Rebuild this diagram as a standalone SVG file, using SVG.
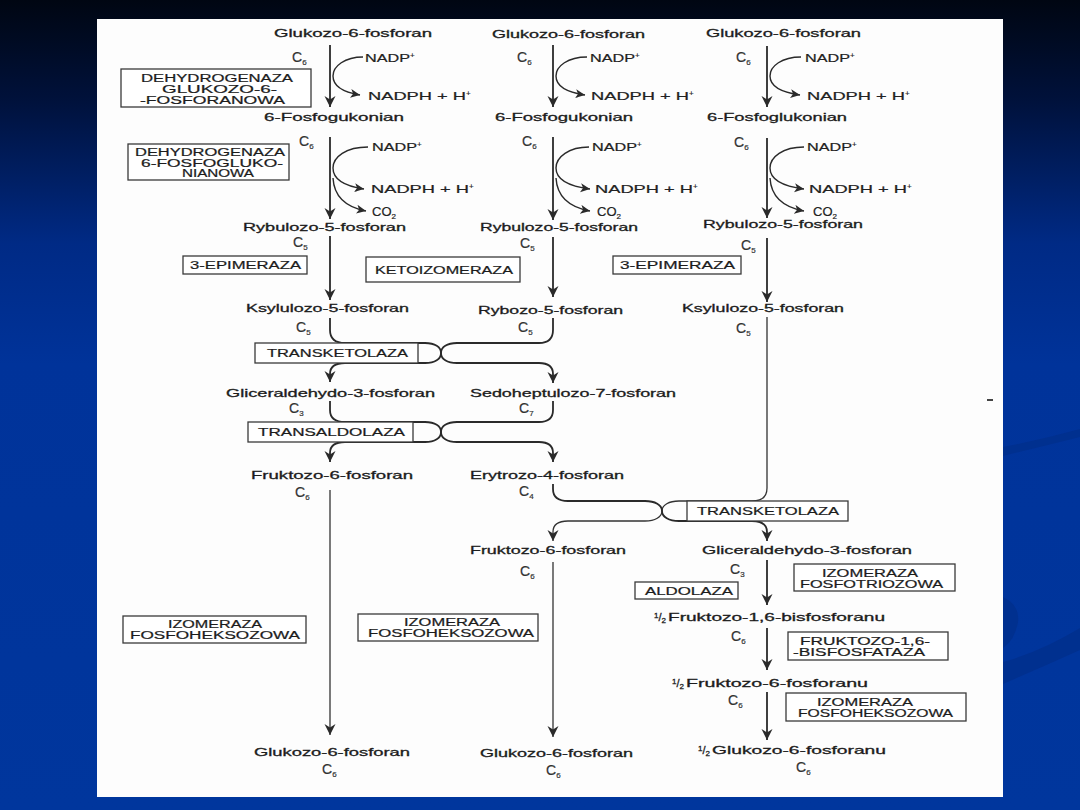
<svg xmlns="http://www.w3.org/2000/svg" width="1080" height="810" viewBox="0 0 1080 810">
<defs>
<linearGradient id="bg" x1="0" y1="0" x2="0" y2="1">
<stop offset="0" stop-color="#000612"/>
<stop offset="0.12" stop-color="#00113a"/>
<stop offset="0.3" stop-color="#002a85"/>
<stop offset="0.45" stop-color="#00339a"/>
<stop offset="1" stop-color="#00369d"/>
</linearGradient>
<marker id="ah" markerUnits="userSpaceOnUse" markerWidth="12" markerHeight="12" viewBox="0 0 12 12" refX="11" refY="6" orient="auto">
<path d="M0,0.5 L11,6 L0,11.5 L3.5,6 z" fill="#2a2a2a"/>
</marker>
<marker id="as" markerUnits="userSpaceOnUse" markerWidth="10" markerHeight="10" viewBox="0 0 10 10" refX="9.5" refY="5" orient="auto">
<path d="M0,0.5 L9.5,5 L0,9.5 L2.5,5 z" fill="#2a2a2a"/>
</marker>
<style>
.cmp{font-family:"Liberation Sans",Arial,sans-serif;font-size:11px;fill:#1c1c1c;stroke:#1c1c1c;stroke-width:0.3}
.enz{font-family:"Liberation Sans",Arial,sans-serif;font-size:10px;fill:#1c1c1c;stroke:#1c1c1c;stroke-width:0.2}
.cof{font-family:"Liberation Sans",Arial,sans-serif;font-size:11.5px;fill:#222;stroke:#222;stroke-width:0.2}
.co2{font-family:"Liberation Sans",Arial,sans-serif;font-size:13px;fill:#222;stroke:#222;stroke-width:0.2}
.cl{font-family:"Liberation Sans",Arial,sans-serif;font-size:14px;fill:#333;stroke:#333;stroke-width:0.2}
.sb{font-size:8px}
.box{fill:#fff;stroke:#3a3a3a;stroke-width:1.3}
.ln{fill:none;stroke:#2a2a2a;stroke-width:1.8}
.lt{fill:none;stroke:#333;stroke-width:1.3}
.cv{fill:none;stroke:#2a2a2a;stroke-width:1.4}
</style>
</defs>
<rect width="1080" height="810" fill="url(#bg)"/>
<path d="M1003,447 Q1040,440 1080,429 L1080,437 Q1040,447 1003,456 z" fill="#00308f"/>
<path d="M1003,597 Q1020,605 1018,622 Q1015,640 1003,648 z" fill="#00308f"/>
<path d="M1003,662 Q1040,652 1080,628 L1080,650 Q1040,668 1003,684 z" fill="#00308f"/>
<rect x="97" y="19" width="906" height="778" fill="#fdfdfd"/>
<rect x="987" y="399" width="6" height="2" fill="#444"/>

<g id="connectors">
<line class="ln" x1="330" y1="45" x2="330" y2="107" marker-end="url(#ah)"/>
<line class="ln" x1="330" y1="137" x2="330" y2="219" marker-end="url(#ah)"/>
<line class="ln" x1="330" y1="236" x2="330" y2="300" marker-end="url(#ah)"/>
<line class="lt" x1="330" y1="490" x2="330" y2="735" marker-end="url(#ah)"/>
<line class="ln" x1="553" y1="45" x2="553" y2="107" marker-end="url(#ah)"/>
<line class="ln" x1="553" y1="137" x2="553" y2="220" marker-end="url(#ah)"/>
<line class="ln" x1="553" y1="237" x2="553" y2="297" marker-end="url(#ah)"/>
<line class="lt" x1="553" y1="562" x2="553" y2="737" marker-end="url(#ah)"/>
<line class="ln" x1="767" y1="46" x2="767" y2="107" marker-end="url(#ah)"/>
<line class="ln" x1="767" y1="138" x2="767" y2="218" marker-end="url(#ah)"/>
<line class="ln" x1="767" y1="238" x2="767" y2="302" marker-end="url(#ah)"/>
<line class="ln" x1="767" y1="560" x2="767" y2="605" marker-end="url(#ah)"/>
<line class="ln" x1="767" y1="628" x2="767" y2="670" marker-end="url(#ah)"/>
<line class="ln" x1="767" y1="692" x2="767" y2="740" marker-end="url(#ah)"/>
<path class="cv" d="M363,57 C345,57 333,66 333,76 C333,85 342,92 360,95" marker-end="url(#as)"/>
<path class="cv" d="M368,147 C346,147 333,157 333,168 C333,179 344,186 364,189" marker-end="url(#as)"/>
<path class="cv" d="M333,178 C334,196 345,207 366,211" marker-end="url(#as)"/>
<path class="cv" d="M587,57 C568,57 556,66 556,76 C556,85 565,92 585,95" marker-end="url(#as)"/>
<path class="cv" d="M589,147 C569,147 556,157 556,168 C556,179 567,186 590,189" marker-end="url(#as)"/>
<path class="cv" d="M556,178 C557,196 568,207 590,211" marker-end="url(#as)"/>
<path class="cv" d="M801,57 C782,57 770,66 770,76 C770,85 779,92 800,95" marker-end="url(#as)"/>
<path class="cv" d="M804,147 C783,147 770,157 770,168 C770,179 781,186 804,189" marker-end="url(#as)"/>
<path class="cv" d="M770,178 C771,196 782,207 804,211" marker-end="url(#as)"/>
<path class="ln" d="M330,318 L330,330 Q330,343 345,343 L425,343 C435,343 441,347 441,353 C441,359 447,363 457,363 L539,363 Q553,363 553,374 L553,383" marker-end="url(#ah)"/>
<path class="ln" d="M553,318 L553,330 Q553,343 539,343 L457,343 C447,343 441,347 441,353 C441,359 435,363 425,363 L345,363 Q330,363 330,374 L330,382" marker-end="url(#ah)"/>
<path class="ln" d="M330,401 L330,410 Q330,422 345,422 L425,422 C435,422 441,426 441,432 C441,438 447,442 457,442 L539,442 Q553,442 553,453 L553,462" marker-end="url(#ah)"/>
<path class="ln" d="M553,401 L553,410 Q553,422 539,422 L457,422 C447,422 441,426 441,432 C441,438 435,442 425,442 L345,442 Q330,442 330,453 L330,462" marker-end="url(#ah)"/>
<path class="lt" d="M767,317 L767,488 Q767,501 752,501 L679,501 C669,501 662,505 662,511 C662,517 655,521 645,521 L568,521 Q553,521 553,532 L553,541" marker-end="url(#ah)"/>
<path class="ln" d="M553,484 L553,489 Q553,501 568,501 L645,501 C655,501 662,505 662,511 C662,517 669,521 679,521 L752,521 Q767,521 767,532 L767,541" marker-end="url(#ah)"/>
</g>

<g id="n-g6p-1"><text class="cmp" x="274" y="37" textLength="158" lengthAdjust="spacingAndGlyphs">Glukozo-6-fosforan</text><text class="cl" x="292" y="62">C<tspan class="sb" dy="3">6</tspan></text></g>
<g id="n-g6p-2"><text class="cmp" x="492" y="38" textLength="153" lengthAdjust="spacingAndGlyphs">Glukozo-6-fosforan</text><text class="cl" x="517" y="62">C<tspan class="sb" dy="3">6</tspan></text></g>
<g id="n-g6p-3"><text class="cmp" x="706" y="37" textLength="155" lengthAdjust="spacingAndGlyphs">Glukozo-6-fosforan</text><text class="cl" x="736" y="62">C<tspan class="sb" dy="3">6</tspan></text></g>

<g id="n-6pg-1"><text class="cmp" x="264" y="121" textLength="140" lengthAdjust="spacingAndGlyphs">6-Fosfogukonian</text><text class="cl" x="299" y="146">C<tspan class="sb" dy="3">6</tspan></text></g>
<g id="n-6pg-2"><text class="cmp" x="495" y="121" textLength="138" lengthAdjust="spacingAndGlyphs">6-Fosfogukonian</text><text class="cl" x="522" y="146">C<tspan class="sb" dy="3">6</tspan></text></g>
<g id="n-6pg-3"><text class="cmp" x="707" y="121" textLength="140" lengthAdjust="spacingAndGlyphs">6-Fosfoglukonian</text><text class="cl" x="734" y="147">C<tspan class="sb" dy="3">6</tspan></text></g>

<g id="n-nadp-1">
<text class="cof" x="365" y="62"><tspan textLength="45" lengthAdjust="spacingAndGlyphs">NADP</tspan><tspan class="sb" dy="-4">+</tspan></text>
<text class="cof" x="368" y="100"><tspan textLength="98" lengthAdjust="spacingAndGlyphs">NADPH + H</tspan><tspan class="sb" dy="-4">+</tspan></text>
<text class="cof" x="372" y="151"><tspan textLength="45" lengthAdjust="spacingAndGlyphs">NADP</tspan><tspan class="sb" dy="-4">+</tspan></text>
<text class="cof" x="371" y="193"><tspan textLength="98" lengthAdjust="spacingAndGlyphs">NADPH + H</tspan><tspan class="sb" dy="-4">+</tspan></text>
<text class="co2" x="372" y="216">CO<tspan class="sb" dy="3">2</tspan></text>
</g>
<g id="n-nadp-2">
<text class="cof" x="590" y="62"><tspan textLength="45" lengthAdjust="spacingAndGlyphs">NADP</tspan><tspan class="sb" dy="-4">+</tspan></text>
<text class="cof" x="591" y="100"><tspan textLength="98" lengthAdjust="spacingAndGlyphs">NADPH + H</tspan><tspan class="sb" dy="-4">+</tspan></text>
<text class="cof" x="592" y="151"><tspan textLength="45" lengthAdjust="spacingAndGlyphs">NADP</tspan><tspan class="sb" dy="-4">+</tspan></text>
<text class="cof" x="595" y="193"><tspan textLength="98" lengthAdjust="spacingAndGlyphs">NADPH + H</tspan><tspan class="sb" dy="-4">+</tspan></text>
<text class="co2" x="597" y="216">CO<tspan class="sb" dy="3">2</tspan></text>
</g>
<g id="n-nadp-3">
<text class="cof" x="805" y="62"><tspan textLength="45" lengthAdjust="spacingAndGlyphs">NADP</tspan><tspan class="sb" dy="-4">+</tspan></text>
<text class="cof" x="807" y="100"><tspan textLength="98" lengthAdjust="spacingAndGlyphs">NADPH + H</tspan><tspan class="sb" dy="-4">+</tspan></text>
<text class="cof" x="807" y="151"><tspan textLength="45" lengthAdjust="spacingAndGlyphs">NADP</tspan><tspan class="sb" dy="-4">+</tspan></text>
<text class="cof" x="809" y="193"><tspan textLength="98" lengthAdjust="spacingAndGlyphs">NADPH + H</tspan><tspan class="sb" dy="-4">+</tspan></text>
<text class="co2" x="813" y="216">CO<tspan class="sb" dy="3">2</tspan></text>
</g>

<g id="n-ru5p-1"><text class="cmp" x="243" y="231" textLength="163" lengthAdjust="spacingAndGlyphs">Rybulozo-5-fosforan</text><text class="cl" x="293" y="247">C<tspan class="sb" dy="3">5</tspan></text></g>
<g id="n-ru5p-2"><text class="cmp" x="480" y="231" textLength="158" lengthAdjust="spacingAndGlyphs">Rybulozo-5-fosforan</text><text class="cl" x="520" y="248">C<tspan class="sb" dy="3">5</tspan></text></g>
<g id="n-ru5p-3"><text class="cmp" x="703" y="228" textLength="160" lengthAdjust="spacingAndGlyphs">Rybulozo-5-fosforan</text><text class="cl" x="741" y="250">C<tspan class="sb" dy="3">5</tspan></text></g>

<g id="n-xu5p-1"><text class="cmp" x="246" y="312" textLength="163" lengthAdjust="spacingAndGlyphs">Ksylulozo-5-fosforan</text><text class="cl" x="296" y="332">C<tspan class="sb" dy="3">5</tspan></text></g>
<g id="n-r5p"><text class="cmp" x="478" y="314" textLength="145" lengthAdjust="spacingAndGlyphs">Rybozo-5-fosforan</text><text class="cl" x="518" y="332">C<tspan class="sb" dy="3">5</tspan></text></g>
<g id="n-xu5p-3"><text class="cmp" x="682" y="312" textLength="162" lengthAdjust="spacingAndGlyphs">Ksylulozo-5-fosforan</text><text class="cl" x="736" y="333">C<tspan class="sb" dy="3">5</tspan></text></g>

<g id="n-ga3p-1"><text class="cmp" x="226" y="397" textLength="209" lengthAdjust="spacingAndGlyphs">Gliceraldehydo-3-fosforan</text><text class="cl" x="289" y="413">C<tspan class="sb" dy="3">3</tspan></text></g>
<g id="n-s7p"><text class="cmp" x="470" y="397" textLength="206" lengthAdjust="spacingAndGlyphs">Sedoheptulozo-7-fosforan</text><text class="cl" x="519" y="413">C<tspan class="sb" dy="3">7</tspan></text></g>

<g id="n-f6p-1"><text class="cmp" x="251" y="479" textLength="162" lengthAdjust="spacingAndGlyphs">Fruktozo-6-fosforan</text><text class="cl" x="295" y="497">C<tspan class="sb" dy="3">6</tspan></text></g>
<g id="n-e4p"><text class="cmp" x="470" y="479" textLength="154" lengthAdjust="spacingAndGlyphs">Erytrozo-4-fosforan</text><text class="cl" x="519" y="496">C<tspan class="sb" dy="3">4</tspan></text></g>

<g id="n-f6p-2"><text class="cmp" x="470" y="554" textLength="156" lengthAdjust="spacingAndGlyphs">Fruktozo-6-fosforan</text><text class="cl" x="520" y="576">C<tspan class="sb" dy="3">6</tspan></text></g>
<g id="n-ga3p-3"><text class="cmp" x="702" y="554" textLength="210" lengthAdjust="spacingAndGlyphs">Gliceraldehydo-3-fosforan</text><text class="cl" x="730" y="574">C<tspan class="sb" dy="3">3</tspan></text></g>

<g id="n-fbp"><text class="cmp" x="654" y="621"><tspan class="sb" dy="-3">1</tspan><tspan dy="3">/</tspan><tspan class="sb" dy="2">2</tspan><tspan x="668" dy="-2" textLength="217" lengthAdjust="spacingAndGlyphs">Fruktozo-1,6-bisfosforanu</tspan></text><text class="cl" x="731" y="641">C<tspan class="sb" dy="3">6</tspan></text></g>
<g id="n-f6p-3"><text class="cmp" x="672" y="687"><tspan class="sb" dy="-3">1</tspan><tspan dy="3">/</tspan><tspan class="sb" dy="2">2</tspan><tspan x="686" dy="-2" textLength="182" lengthAdjust="spacingAndGlyphs">Fruktozo-6-fosforanu</tspan></text><text class="cl" x="728" y="705">C<tspan class="sb" dy="3">6</tspan></text></g>

<g id="n-g6p-b1"><text class="cmp" x="254" y="756" textLength="156" lengthAdjust="spacingAndGlyphs">Glukozo-6-fosforan</text><text class="cl" x="322" y="774">C<tspan class="sb" dy="3">6</tspan></text></g>
<g id="n-g6p-b2"><text class="cmp" x="480" y="757" textLength="153" lengthAdjust="spacingAndGlyphs">Glukozo-6-fosforan</text><text class="cl" x="546" y="775">C<tspan class="sb" dy="3">6</tspan></text></g>
<g id="n-g6p-b3"><text class="cmp" x="698" y="754"><tspan class="sb" dy="-3">1</tspan><tspan dy="3">/</tspan><tspan class="sb" dy="2">2</tspan><tspan x="712" dy="-2" textLength="174" lengthAdjust="spacingAndGlyphs">Glukozo-6-fosforanu</tspan></text><text class="cl" x="796" y="772">C<tspan class="sb" dy="3">6</tspan></text></g>

<g id="e-g6pdh"><rect class="box" x="121" y="69" width="190" height="38"/>
<text class="enz" x="141" y="81.5" textLength="152" lengthAdjust="spacingAndGlyphs">DEHYDROGENAZA</text>
<text class="enz" x="162" y="92.5" textLength="115" lengthAdjust="spacingAndGlyphs">GLUKOZO-6-</text>
<text class="enz" x="140" y="103.5" textLength="145" lengthAdjust="spacingAndGlyphs">-FOSFORANOWA</text></g>
<g id="e-6pgdh"><rect class="box" x="128" y="144" width="161" height="36"/>
<text class="enz" x="135" y="155.5" textLength="150" lengthAdjust="spacingAndGlyphs">DEHYDROGENAZA</text>
<text class="enz" x="141" y="166.5" textLength="142" lengthAdjust="spacingAndGlyphs">6-FOSFOGLUKO-</text>
<text class="enz" x="182" y="177" textLength="72" lengthAdjust="spacingAndGlyphs">NIANOWA</text></g>
<g id="e-epi-1"><rect class="box" x="183" y="256" width="124" height="18"/>
<text class="enz" x="190" y="269" textLength="111" lengthAdjust="spacingAndGlyphs">3-EPIMERAZA</text></g>
<g id="e-keto"><rect class="box" x="366" y="257" width="154" height="25"/>
<text class="enz" x="375" y="273.5" textLength="138" lengthAdjust="spacingAndGlyphs">KETOIZOMERAZA</text></g>
<g id="e-epi-3"><rect class="box" x="613" y="256" width="128" height="18"/>
<text class="enz" x="620" y="269" textLength="115" lengthAdjust="spacingAndGlyphs">3-EPIMERAZA</text></g>
<g id="e-tk-1"><rect class="box" x="255" y="343" width="163" height="20"/>
<text class="enz" x="267" y="357" textLength="141" lengthAdjust="spacingAndGlyphs">TRANSKETOLAZA</text></g>
<g id="e-ta"><rect class="box" x="248" y="422" width="165" height="20"/>
<text class="enz" x="258" y="436" textLength="147" lengthAdjust="spacingAndGlyphs">TRANSALDOLAZA</text></g>
<g id="e-tk-2"><rect class="box" x="687" y="501" width="161" height="20"/>
<text class="enz" x="697" y="515" textLength="142" lengthAdjust="spacingAndGlyphs">TRANSKETOLAZA</text></g>
<g id="e-tpi"><rect class="box" x="794" y="564" width="161" height="27"/>
<text class="enz" x="822" y="576.5" textLength="96" lengthAdjust="spacingAndGlyphs">IZOMERAZA</text>
<text class="enz" x="800" y="588" textLength="143" lengthAdjust="spacingAndGlyphs">FOSFOTRIOZOWA</text></g>
<g id="e-ald"><rect class="box" x="635" y="582" width="103" height="17"/>
<text class="enz" x="645" y="594.5" textLength="88" lengthAdjust="spacingAndGlyphs">ALDOLAZA</text></g>
<g id="e-fbpase"><rect class="box" x="788" y="632" width="160" height="28"/>
<text class="enz" x="800" y="644.5" textLength="130" lengthAdjust="spacingAndGlyphs">FRUKTOZO-1,6-</text>
<text class="enz" x="793" y="656" textLength="132" lengthAdjust="spacingAndGlyphs">-BISFOSFATAZA</text></g>
<g id="e-pgi-3"><rect class="box" x="786" y="693" width="180" height="28"/>
<text class="enz" x="817" y="705.5" textLength="96" lengthAdjust="spacingAndGlyphs">IZOMERAZA</text>
<text class="enz" x="798" y="717" textLength="155" lengthAdjust="spacingAndGlyphs">FOSFOHEKSOZOWA</text></g>
<g id="e-pgi-1"><rect class="box" x="123" y="616" width="183" height="27"/>
<text class="enz" x="168" y="627.5" textLength="94" lengthAdjust="spacingAndGlyphs">IZOMERAZA</text>
<text class="enz" x="130" y="639" textLength="170" lengthAdjust="spacingAndGlyphs">FOSFOHEKSOZOWA</text></g>
<g id="e-pgi-2"><rect class="box" x="358" y="614" width="180" height="27"/>
<text class="enz" x="404" y="625.5" textLength="96" lengthAdjust="spacingAndGlyphs">IZOMERAZA</text>
<text class="enz" x="368" y="637" textLength="166" lengthAdjust="spacingAndGlyphs">FOSFOHEKSOZOWA</text></g>
</svg>
